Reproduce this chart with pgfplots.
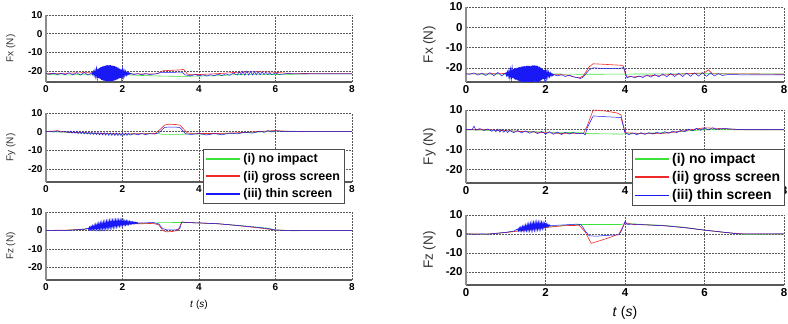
\documentclass[border=0pt]{standalone}
\usepackage{pgfplots}
\pgfplotsset{compat=1.18}
\usepackage{fontspec}
\setmainfont{Liberation Sans}
\definecolor{mgreen}{RGB}{60,225,60}
\definecolor{mred}{RGB}{240,40,40}
\definecolor{mblue}{RGB}{25,25,245}
\pgfplotsset{
  fbase/.style={scale only axis, xmin=0, xmax=8, ymin=-27, ymax=10,
    xtick={0,2,4,6,8}, ytick={-20,-10,0,10},
    axis x line*=bottom, axis y line*=left,
    x axis line style={-, draw=black!65, line width=1.4pt},
    y axis line style={-, draw=black!45, line width=1.8pt},
    grid=major, grid style={dash pattern=on 1.6pt off 1.4pt, black!65, line width=0.5pt},
    major tick length=0pt,
    /pgf/number format/assume math mode=true,
    clip=true,
    ylabel style={at={(axis description cs:-0.115,0.5)}, anchor=center, rotate=0, text=black!80},
    legend cell align=left,
  },
  lft/.style={fbase, width=306pt,
    tick label style={font=\bfseries\fontsize{10}{10}\selectfont},
    ylabel style={font=\fontsize{10}{10}\selectfont},
    xlabel style={font=\fontsize{10}{10}\selectfont},
  },
  rgt/.style={fbase, width=318pt,
    tick label style={font=\bfseries\fontsize{11.5}{11.5}\selectfont},
    ylabel style={font=\fontsize{13.5}{13.5}\selectfont},
    xlabel style={font=\fontsize{14}{14}\selectfont},
  },
  legL/.style={legend image code/.code={\draw[##1, line width=2pt] (0pt,0pt) -- (34pt,0pt);}},
  legR/.style={legend image code/.code={\draw[##1, line width=1.7pt] (0pt,0pt) -- (34pt,0pt);}},
  gl/.style={mgreen, line width=0.6pt},
  rl/.style={mred, line width=0.6pt},
  bl/.style={mblue, line width=0.5pt},
  bz/.style={mblue, line width=1.2pt, forget plot},
}
\begin{document}
\begin{tikzpicture}
\useasboundingbox (0pt,0pt) rectangle (788pt,324pt);
% ---------------- Left Fx
\begin{axis}[lft, at={(46pt,242pt)}, anchor=south west, height=67pt, ymin=-26, ylabel={Fx (N)}]
\addplot[gl] coordinates {(0,-22)(0.5,-22.2)(1,-22)(1.5,-22.3)(2,-22)(2.5,-22.5)(3,-22.8)(3.5,-23)(4,-22.8)(4.5,-22.6)(5,-22)(5.5,-21.8)(6,-22)(6.5,-21.8)(7,-21.6)(8,-21.6)};
\addplot[rl] coordinates {(0,-21.5)(0.5,-21.3)(1,-21)(1.5,-21.2)(2,-21.5)(2.5,-21.7)(2.9,-21.6)(3.05,-20)(3.2,-19.8)(3.5,-19.5)(3.6,-19.2)(3.7,-21.8)(4,-22)(4.5,-21.5)(5,-20.8)(5.5,-20.5)(5.8,-20.6)(6,-20.8)(6.3,-21.3)(7,-21.5)(8,-21.5)};
\addplot[bl] coordinates {(0,-21.5)(0.1,-21.9)(0.2,-21.2)(0.3,-22.0)(0.4,-21.3)(0.5,-22.1)(0.6,-21.0)(0.7,-22.2)(0.8,-21.0)(0.9,-22.3)(1.0,-20.9)(1.1,-22.3)(1.20,-21.0)
(2.20,-21.4)(2.3,-22)(2.4,-21.5)(2.5,-22.1)(2.6,-21.5)(2.7,-22.0)(2.85,-21.7)(3.0,-21.0)(3.3,-20.8)(3.55,-20.7)(3.65,-22.3)(3.8,-22.6)(3.9,-22.0)(4.0,-22.7)(4.1,-22.1)(4.2,-22.8)(4.3,-22.1)(4.4,-22.6)(4.5,-21.8)(4.6,-22.5)(4.7,-21.6)(4.8,-22.4)(4.9,-21.2)(5.0,-22.3)(5.05,-20.5)(5.1,-22.2)(5.15,-20.3)(5.2,-22.4)(5.25,-20.2)(5.3,-22.3)(5.35,-20.3)(5.4,-22.2)(5.45,-20.4)(5.5,-22.1)(5.55,-20.5)(5.6,-22.1)(5.65,-20.6)(5.7,-22.0)(5.75,-20.8)(5.8,-22.0)(5.85,-21.0)(5.9,-22.0)(6.0,-21.2)(6.1,-21.9)(6.3,-21.5)(6.6,-21.7)(7,-21.6)(8,-21.6)};
\addplot[bz] coordinates {(1.20,-21.0)(1.22,-21.8)(1.24,-20.6)(1.26,-22.2)(1.28,-20.2)(1.30,-22.6)(1.32,-19.6)(1.34,-23.2)(1.36,-19.0)(1.38,-23.8)(1.40,-18.5)(1.42,-24.3)(1.44,-18.0)(1.46,-24.8)(1.48,-17.6)(1.50,-25.2)(1.52,-17.3)(1.54,-25.4)(1.56,-17.2)(1.58,-25.5)(1.60,-17.0)(1.62,-25.6)(1.64,-17.1)(1.66,-25.5)(1.68,-17.0)(1.70,-25.6)(1.72,-17.2)(1.74,-25.4)(1.76,-17.3)(1.78,-25.2)(1.80,-17.5)(1.82,-25.0)(1.84,-17.9)(1.86,-24.6)(1.88,-18.3)(1.90,-24.2)(1.92,-18.8)(1.94,-23.8)(1.96,-19.3)(1.98,-23.3)(2.00,-19.8)(2.02,-22.8)(2.04,-20.2)(2.06,-22.4)(2.08,-20.6)(2.10,-22.1)(2.12,-20.9)(2.14,-21.9)(2.16,-21.1)(2.18,-21.7)(2.20,-21.4)};
\end{axis}
% ---------------- Left Fy
\begin{axis}[lft, legL, at={(46pt,142pt)}, anchor=south west, height=69pt, ylabel={Fy (N)},
  xticklabels={0,2,4,,8},
  legend style={at={(0.513,0.478)}, anchor=north west, draw=black!70, line width=0.8pt, fill=white,
    font=\bfseries\fontsize{12.5}{12.5}\selectfont, inner sep=2pt, row sep=3pt}]
\addplot[gl] coordinates {(0,0)(0.5,-0.3)(1,-0.8)(1.5,-1.2)(2,-1.3)(2.5,-1.2)(2.9,-1)(3.1,-1.5)(3.5,-1.5)(3.7,-1.2)(4,-1.3)(4.5,-1.2)(5,-0.8)(5.5,-0.3)(6,0.3)(6.5,0.2)(7,0)(8,0)};
\addplot[rl] coordinates {(0,0)(0.3,0.5)(0.5,-0.2)(1,-0.6)(1.5,-1)(2,-1.2)(2.5,-1.1)(2.85,-1)(3.0,1.5)(3.1,3.5)(3.2,4)(3.4,3.8)(3.5,3.5)(3.7,-0.8)(4,-1)(4.5,-1)(5,-0.6)(5.5,0)(6,0.6)(6.3,0.2)(7,0)(8,0)};
\addplot[bl] coordinates {(0,0)(0.1,0.3)(0.2,-0.2)(0.3,0.4)(0.4,-0.3)(0.5,0.2)(0.6,-0.6)(0.64,0.3)(0.68,-0.8)(0.72,0.2)(0.76,-0.9)(0.80,0.1)(0.84,-1.0)(0.88,0.0)(0.92,-1.1)(0.96,-0.1)(1.00,-1.2)(1.04,-0.2)(1.08,-1.3)(1.12,-0.3)(1.16,-1.4)(1.20,-0.3)(1.24,-1.5)(1.28,-0.4)(1.32,-1.6)(1.36,-0.4)(1.40,-1.7)(1.44,-0.5)(1.48,-1.8)(1.52,-0.5)(1.56,-1.9)(1.60,-0.6)(1.64,-2.0)(1.68,-0.6)(1.72,-2.0)(1.76,-0.7)(1.80,-2.1)(1.84,-0.7)(1.88,-2.1)(1.92,-0.8)(1.96,-2.1)(2.00,-0.8)(2.04,-2.0)(2.08,-0.8)(2.12,-2.0)(2.16,-0.9)(2.20,-1.9)(2.30,-1.0)(2.40,-1.7)(2.50,-1.0)(2.60,-1.6)(2.70,-1.1)(2.85,-1.3)(2.95,-0.5)(3.1,2.2)(3.2,2.5)(3.4,2.4)(3.5,2.2)(3.65,-1.2)(3.8,-1.5)(4.0,-1.0)(4.2,-1.8)(4.4,-1.0)(4.6,-1.7)(4.8,-0.8)(5.0,-1.2)(5.2,-0.3)(5.4,-0.8)(5.6,0.3)(5.7,-0.4)(5.8,0.6)(5.9,-0.2)(6.0,0.5)(6.2,0)(6.5,0.1)(7,0)(8,0)};
\legend{(i) no impact,(ii) gross screen,(iii) thin screen}
\end{axis}
% ---------------- Left Fz
\begin{axis}[lft, at={(46pt,44pt)}, anchor=south west, height=68pt, ylabel={Fz (N)},
  xlabel={\textit{t} (\textit{s})}, xlabel style={at={(axis description cs:0.5,-0.37)}, anchor=center}]
\addplot[gl] coordinates {(0,0)(0.5,0)(1,0.8)(1.5,2.2)(2,3.5)(2.5,3.8)(2.8,4)(3,4.2)(3.5,4.3)(3.7,4.3)(4,4)(4.5,3.6)(5,2.8)(5.5,1.8)(5.8,1.2)(6,0.3)(6.5,-0.3)(6.8,0)(8,0)};
\addplot[rl] coordinates {(0,0)(0.5,0.1)(1,0.6)(1.5,2)(2,3.5)(2.5,3.6)(2.8,3.8)(2.95,3)(3.05,0)(3.15,-0.8)(3.3,-0.6)(3.45,0)(3.55,4.5)(3.8,4.2)(4.5,3.6)(5,2.6)(5.5,1.5)(6,0.2)(6.3,0)(8,0)};
\addplot[bl] coordinates {(0,0)(0.3,-0.2)(0.6,0)(0.8,0.3)(1.0,0.6)(1.10,1.2)
(2.40,4.0)(2.6,4.1)(2.8,4.3)(2.95,3.5)(3.05,1)(3.15,0.3)(3.4,0.3)(3.5,1)(3.55,4.6)(3.7,4.2)(4.0,4.1)(4.5,3.6)(5.0,2.7)(5.5,1.7)(5.8,1.0)(6.0,0.2)(6.2,0)(8,0)};
\addplot[bz] coordinates {(1.10,1.2)(1.12,0.6)(1.14,1.6)(1.16,0.6)(1.18,1.9)(1.20,0.7)(1.22,2.2)(1.24,0.8)(1.26,2.5)(1.28,0.9)(1.30,2.8)(1.32,1.0)(1.34,3.0)(1.36,1.0)(1.38,3.3)(1.40,1.1)(1.42,3.5)(1.44,1.2)(1.46,3.7)(1.48,1.3)(1.50,3.9)(1.52,1.4)(1.54,4.1)(1.56,1.6)(1.58,4.3)(1.60,1.7)(1.62,4.4)(1.64,1.9)(1.66,4.6)(1.68,2.0)(1.70,4.7)(1.72,2.2)(1.74,4.8)(1.76,2.3)(1.78,4.9)(1.80,2.5)(1.82,5.0)(1.84,2.6)(1.86,5.1)(1.88,2.8)(1.90,5.1)(1.92,2.9)(1.94,5.2)(1.96,3.0)(1.98,5.1)(2.00,3.1)(2.02,5.0)(2.04,3.2)(2.06,4.9)(2.08,3.3)(2.10,4.9)(2.12,3.4)(2.14,4.8)(2.16,3.5)(2.18,4.7)(2.20,3.6)(2.22,4.6)(2.24,3.7)(2.26,4.5)(2.28,3.8)(2.30,4.4)(2.32,3.8)(2.34,4.3)(2.36,3.9)(2.38,4.2)(2.40,4.0)};
\end{axis}
% ---------------- Right Fx
\begin{axis}[rgt, at={(466pt,242pt)}, anchor=south west, height=75pt, ylabel={Fx (N)}]
\addplot[gl] coordinates {(0,-23)(1,-23.1)(2,-23)(3,-23.2)(4,-23.1)(5,-23)(6,-22.9)(7,-23)(8,-23)};
\addplot[rl] coordinates {(0,-23)(0.5,-23)(1,-22.8)(1.5,-23)(2,-23.2)(2.5,-23.5)(2.85,-25)(2.95,-24)(3.1,-19.5)(3.2,-18)(3.5,-18.3)(3.95,-18.8)(4.02,-24)(4.2,-24.5)(4.5,-24)(5,-23.5)(5.5,-23)(6,-22.5)(6.1,-21)(6.2,-23)(7,-23)(8,-23.2)};
\addplot[bl] coordinates {(0,-23)(0.1,-23.2)(0.2,-22.5)(0.3,-23.6)(0.4,-22.6)(0.5,-23.8)(0.6,-22.4)(0.7,-23.9)(0.8,-22.3)(0.9,-24)(1.00,-22.5)
(2.20,-23.3)(2.3,-24)(2.4,-23.4)(2.5,-24.3)(2.6,-23.6)(2.7,-24.5)(2.8,-24.8)(2.88,-25.3)(2.95,-24.5)(3.1,-21)(3.2,-20)(3.5,-20.4)(3.9,-20.2)(3.97,-19.8)(4.05,-25)(4.15,-24.2)(4.25,-25)(4.35,-24)(4.45,-24.8)(4.55,-23.6)(4.65,-24.6)(4.75,-23.3)(4.85,-24.5)(4.95,-23)(5.05,-24.4)(5.15,-22.8)(5.25,-24.3)(5.35,-22.7)(5.45,-24.3)(5.55,-22.6)(5.65,-24.2)(5.75,-22.5)(5.85,-24.1)(5.95,-22.4)(6.05,-24.2)(6.15,-22.6)(6.25,-24.0)(6.35,-22.9)(6.45,-23.8)(6.6,-23.3)(7,-23.5)(8,-23.5)};
\addplot[bz] coordinates {(1.00,-22.5)(1.02,-23.6)(1.04,-22.2)(1.06,-24.0)(1.08,-21.8)(1.10,-24.3)(1.12,-21.4)(1.14,-24.7)(1.16,-21.0)(1.18,-25.1)(1.20,-20.6)(1.22,-25.5)(1.24,-20.3)(1.26,-25.9)(1.28,-20.0)(1.30,-26.2)(1.32,-19.8)(1.34,-26.5)(1.36,-19.6)(1.38,-26.8)(1.40,-19.4)(1.42,-27.0)(1.44,-19.3)(1.46,-27.0)(1.48,-19.2)(1.50,-27.0)(1.52,-19.1)(1.54,-27.0)(1.56,-19.0)(1.58,-27.0)(1.60,-19.0)(1.62,-27.0)(1.64,-19.0)(1.66,-27.0)(1.68,-18.8)(1.70,-27.0)(1.72,-18.8)(1.74,-27.0)(1.76,-18.9)(1.78,-27.0)(1.80,-19.0)(1.82,-27.0)(1.84,-19.4)(1.86,-26.6)(1.88,-19.9)(1.90,-26.1)(1.92,-20.5)(1.94,-25.6)(1.96,-21.1)(1.98,-25.1)(2.00,-21.6)(2.02,-24.7)(2.04,-22.0)(2.06,-24.4)(2.08,-22.4)(2.10,-24.1)(2.12,-22.7)(2.14,-23.9)(2.16,-23.0)(2.18,-23.7)(2.20,-23.3)};
\end{axis}
% ---------------- Right Fy
\begin{axis}[rgt, legR, at={(466pt,141pt)}, anchor=south west, height=73pt, ylabel={Fy (N)},
  xticklabels={0,2,4,,8},
  legend style={at={(0.522,0.466)}, anchor=north west, draw=black!70, line width=0.8pt, fill=white,
    font=\bfseries\fontsize{14}{14}\selectfont, inner sep=2pt, row sep=2.5pt}]
\addplot[gl] coordinates {(0,0)(1,-0.5)(2,-1.2)(2.9,-1.5)(3.1,-2)(3.9,-2.2)(4.05,-2)(5,-1.5)(6,0)(7,0)(8,0)};
\addplot[rl] coordinates {(0,0)(0.5,0)(1,-0.5)(2,-1.5)(2.5,-2)(2.95,-2)(3.05,2)(3.2,10)(3.5,9.5)(3.8,8.5)(3.9,7.5)(4.0,-1.5)(4.5,-2)(5,-1.8)(5.5,-0.5)(6,1)(6.5,0.5)(7,0)(8,0)};
\addplot[bl] coordinates {(0,0)(0.15,0)(0.2,1.8)(0.25,-0.2)(0.35,0.6)(0.45,-0.4)(0.55,0.4)(0.65,-0.8)(0.7,0.2)(0.75,-1)(0.8,0.3)(0.85,-1.2)(0.9,0)(0.95,-1.3)(1.0,-0.2)(1.05,-1.4)(1.1,-0.3)(1.2,-1.5)(1.3,-0.4)(1.4,-1.6)(1.5,-0.6)(1.6,-1.8)(1.7,-0.8)(1.8,-2)(1.9,-0.9)(2.0,-2.2)(2.1,-1)(2.2,-2.3)(2.3,-1.2)(2.4,-2.5)(2.5,-1.3)(2.6,-2.2)(2.7,-1.4)(2.8,-2)(2.95,-1.8)(3.0,-2.6)(3.05,1)(3.2,7)(3.5,6.6)(3.9,6.2)(4.0,-1.5)(4.1,-2.5)(4.2,-1.6)(4.3,-2.6)(4.4,-1.5)(4.5,-2.4)(4.6,-1.5)(4.7,-2.2)(4.8,-1.3)(4.9,-2)(5.0,-1.0)(5.1,-1.8)(5.2,-0.7)(5.3,-1.5)(5.4,-0.3)(5.5,-1.0)(5.6,0.3)(5.7,-0.6)(5.8,0.7)(5.9,-0.3)(6.0,1.0)(6.1,-0.1)(6.2,1.0)(6.3,0.2)(6.5,0.6)(6.8,0.2)(7,0)(8,0)};
\legend{(i) no impact,(ii) gross screen,(iii) thin screen}
\end{axis}
% ---------------- Right Fz
\begin{axis}[rgt, at={(466pt,39pt)}, anchor=south west, height=70pt, ylabel={Fz (N)},
  xlabel={\textit{t} (\textit{s})}, xlabel style={at={(axis description cs:0.5,-0.40)}, anchor=center}]
\addplot[gl] coordinates {(0,0)(0.5,-0.2)(1,0.8)(1.5,2.2)(2,3.5)(2.5,4.5)(2.8,5)(3.5,5)(3.9,5)(4,5.5)(4.5,5)(5,4.5)(5.5,3.5)(6,2)(6.5,0.8)(7,-0.3)(8,0)};
\addplot[rl] coordinates {(0,0)(0.5,-0.1)(1,0.7)(1.5,2)(2,3.4)(2.5,4.4)(2.85,4.5)(3.0,1)(3.15,-5)(3.3,-4)(3.6,-2)(3.85,0)(3.9,2)(4.0,6)(4.2,5)(4.5,4.8)(5,4.3)(5.5,3.3)(6,2)(6.5,0.8)(7,0)(8,0)};
\addplot[bl] coordinates {(0,0)(0.2,-0.2)(0.4,0)(0.6,-0.1)(0.8,0.4)(1.0,0.8)(1.2,1.5)(1.30,2.6)
(2.12,4.3)(2.3,4.6)(2.5,4.8)(2.8,5.2)(2.9,4.8)(3.0,1.5)(3.1,-1)(3.3,-1.2)(3.5,-0.8)(3.85,-0.5)(3.92,2)(4.0,6.5)(4.05,5)(4.2,5.2)(4.5,4.8)(5,4.3)(5.5,3.3)(6,2)(6.5,0.9)(6.8,0.1)(7,0)(8,0)};
\addplot[bz] coordinates {(1.30,2.6)(1.32,1.8)(1.34,3.0)(1.36,1.8)(1.38,3.3)(1.40,1.9)(1.42,3.6)(1.44,2.0)(1.46,3.9)(1.48,2.1)(1.50,4.2)(1.52,2.2)(1.54,4.5)(1.56,2.3)(1.58,4.8)(1.60,2.4)(1.62,5.0)(1.64,2.5)(1.66,5.2)(1.68,2.6)(1.70,5.4)(1.72,2.7)(1.74,5.5)(1.76,2.8)(1.78,5.6)(1.80,2.9)(1.82,5.6)(1.84,3.0)(1.86,5.6)(1.88,3.1)(1.90,5.6)(1.92,3.3)(1.94,5.5)(1.96,3.5)(1.98,5.3)(2.00,3.7)(2.02,5.1)(2.04,3.9)(2.06,4.9)(2.08,4.1)(2.10,4.6)(2.12,4.3)};
\end{axis}
\end{tikzpicture}
\end{document}
